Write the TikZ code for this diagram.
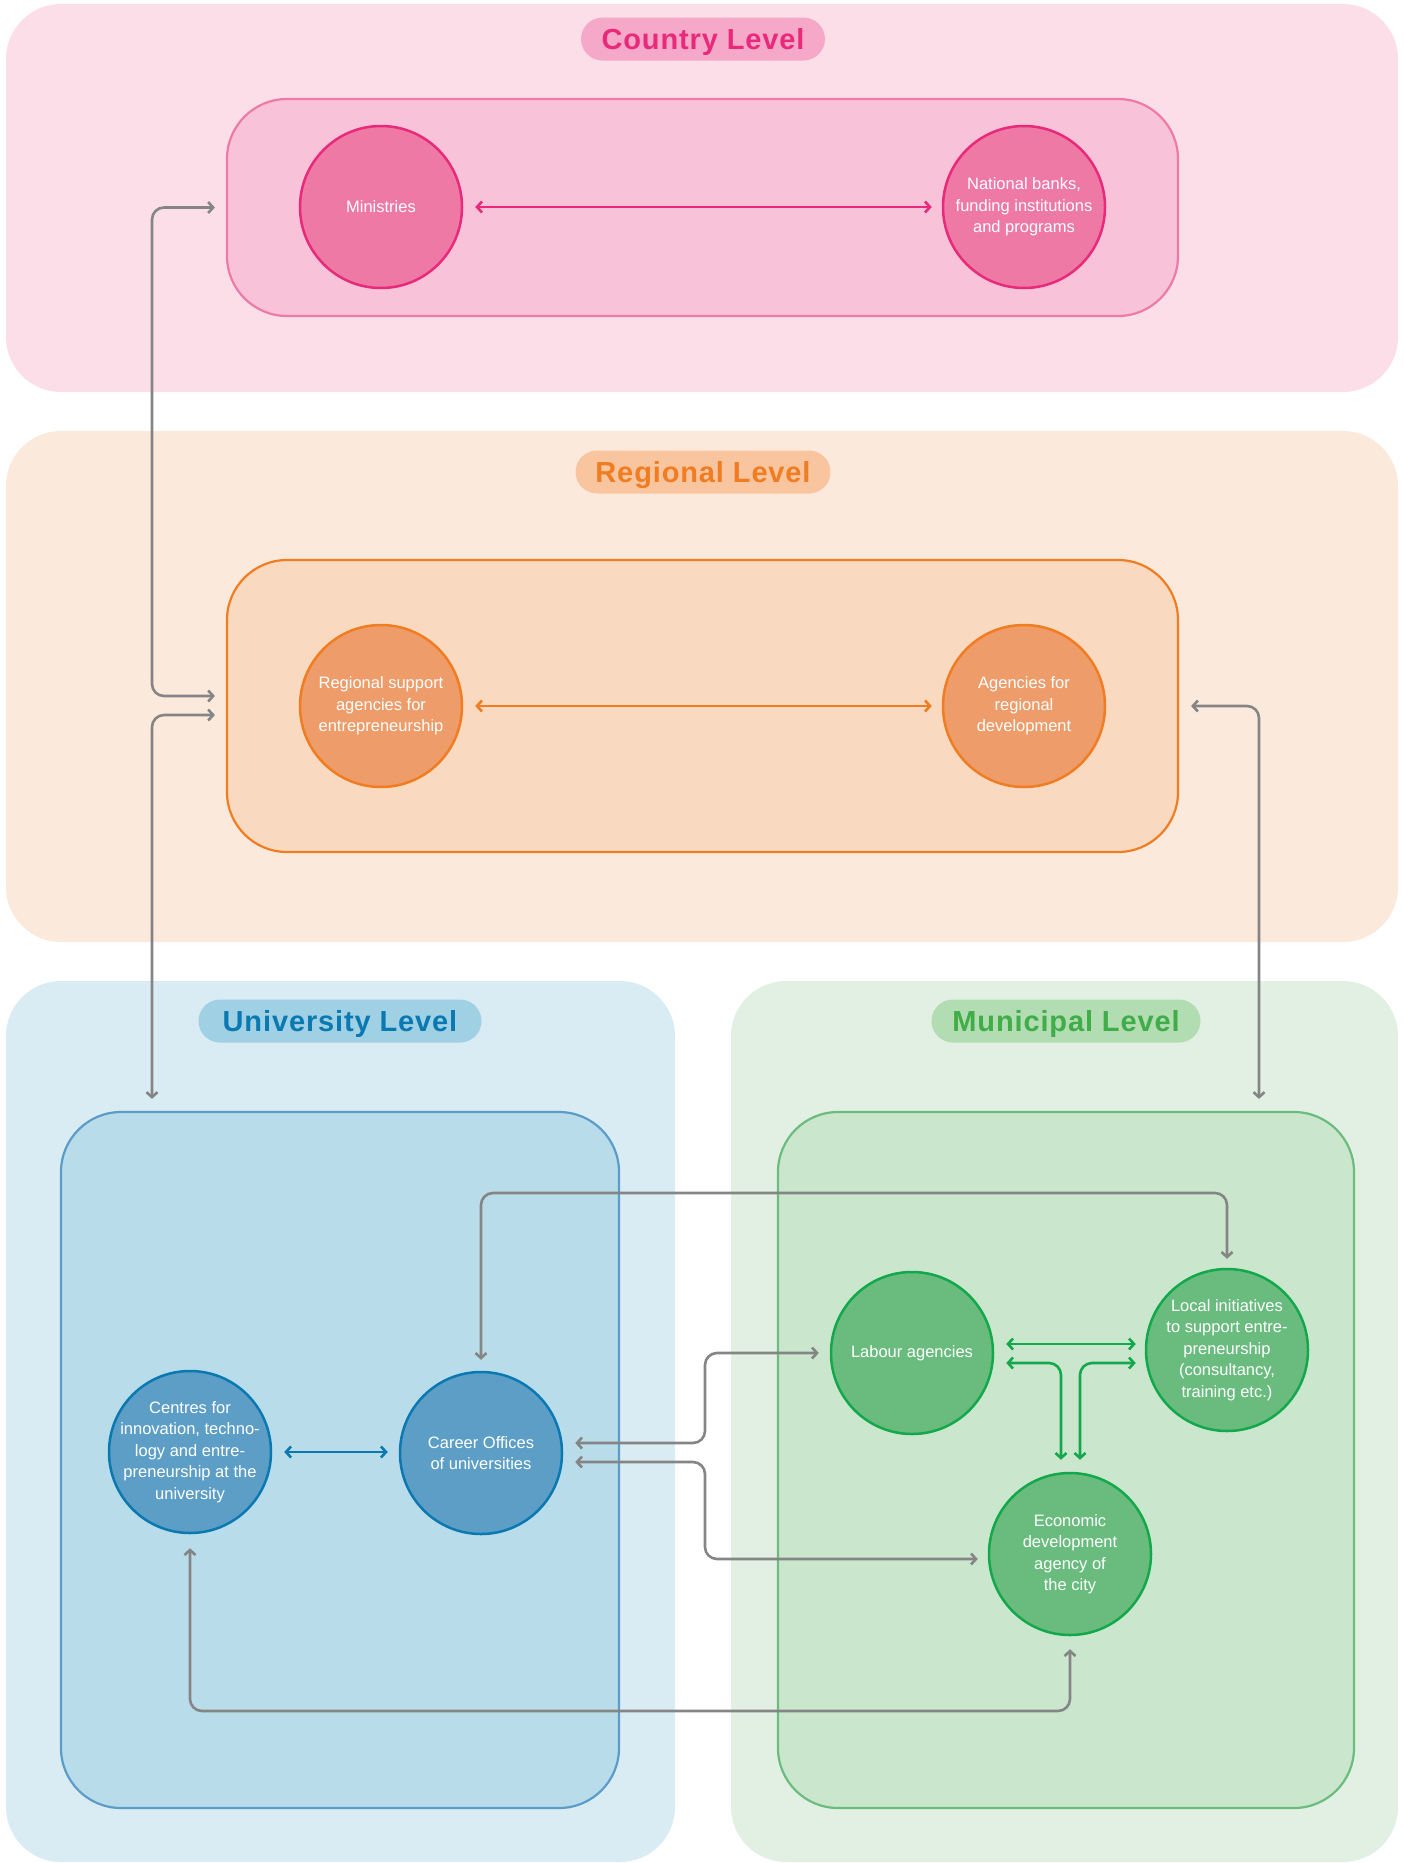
\documentclass[tikz,border=0pt]{standalone}
\usepackage{fontspec}
\setmainfont{Liberation Sans}
\newfontfamily\titlefont[LetterSpace=3]{Liberation Sans}
\usetikzlibrary{arrows.meta}
\definecolor{pinkBand}{HTML}{FCDEE9}
\definecolor{pinkInner}{HTML}{F8C3D8}
\definecolor{pinkInnerLine}{HTML}{EE7AA7}
\definecolor{pinkCircle}{HTML}{EE79A5}
\definecolor{pinkLine}{HTML}{E9297A}
\definecolor{pinkPill}{HTML}{F6A8C9}
\definecolor{orBand}{HTML}{FBE9DC}
\definecolor{orInner}{HTML}{F9DAC0}
\definecolor{orLine}{HTML}{F07D22}
\definecolor{orCircle}{HTML}{EE9C6A}
\definecolor{orPill}{HTML}{F8C59F}
\definecolor{blBand}{HTML}{D9EBF3}
\definecolor{blInner}{HTML}{B8DCEA}
\definecolor{blInnerLine}{HTML}{5B9DC8}
\definecolor{blCircle}{HTML}{5D9EC6}
\definecolor{blLine}{HTML}{0B79B1}
\definecolor{blPill}{HTML}{9FD0E4}
\definecolor{grBand}{HTML}{E1F0E3}
\definecolor{grInner}{HTML}{CAE7CE}
\definecolor{grInnerLine}{HTML}{6CBC7D}
\definecolor{grCircle}{HTML}{69BC7E}
\definecolor{grLine}{HTML}{12A84B}
\definecolor{grPill}{HTML}{B2DDB3}
\definecolor{grTitle}{HTML}{40AD48}
\definecolor{conn}{HTML}{858585}
\begin{document}
\begin{tikzpicture}[x=1pt,y=-1pt,
  band/.style={rounded corners=55pt},
  inner/.style={rounded corners=60pt, line width=2.2pt, inner sep=0pt},
  pill/.style={rounded corners=21.5pt, minimum height=43pt, inner sep=0pt, text depth=0pt,
    font=\titlefont\bfseries\fontsize{29}{34}\selectfont},
  circ/.style={circle, minimum size=162pt, inner sep=-20pt, line width=2.5pt,
    text=white, align=center, font=\fontsize{16.5}{21.5}\selectfont},
  garrow/.style={draw=conn, line width=2.6pt, rounded corners=12pt, {Straight Barb[length=5pt,width=11pt]}-{Straight Barb[length=5pt,width=11pt]}},
  carrow/.style={draw=#1, line width=2.6pt, rounded corners=12pt, {Straight Barb[length=5pt,width=11pt]}-{Straight Barb[length=5pt,width=11pt]}}
]
\useasboundingbox (0,0) rectangle (1403,1863);
% bands
\fill[pinkBand, band] (6,4) rectangle (1398,392);
\fill[orBand, band] (6,431) rectangle (1398,942);
\fill[blBand, band] (6,981) rectangle (675,1862);
\fill[grBand, band] (731,981) rectangle (1398,1862);
% pills
\node[pill, fill=pinkPill, text=pinkLine, minimum width=244pt] (pc) at (703,39) {Country Level};
\node[pill, fill=orPill, text=orLine, minimum width=255pt] (pr) at (703,472) {Regional Level};
\node[pill, fill=blPill, text=blLine, minimum width=283pt] (pu) at (340,1021) {University Level};
\node[pill, fill=grPill, text=grTitle, minimum width=269pt] (pm) at (1066,1021) {Municipal Level};
% inner boxes
\node[inner, draw=pinkInnerLine, fill=pinkInner, minimum width=951pt, minimum height=217pt] (cbox) at (702.5,207.5) {};
\node[inner, draw=orLine, fill=orInner, minimum width=951pt, minimum height=292pt] (rbox) at (702.5,706) {};
\node[inner, draw=blInnerLine, fill=blInner, minimum width=558pt, minimum height=696pt] (ubox) at (340,1460) {};
\node[inner, draw=grInnerLine, fill=grInner, minimum width=576pt, minimum height=696pt] (mbox) at (1066,1460) {};
% circles
\node[circ, draw=pinkLine, fill=pinkCircle] (min) at (381,207) {Ministries};
\node[circ, draw=pinkLine, fill=pinkCircle] (nat) at (1024,207) {National banks,\\funding institutions\\and programs};
\node[circ, draw=orLine, fill=orCircle] (rsa) at (381,706) {Regional support\\agencies for\\entrepreneurship};
\node[circ, draw=orLine, fill=orCircle] (ard) at (1024,706) {Agencies for\\regional\\development};
\node[circ, draw=blLine, fill=blCircle] (cen) at (190,1452) {Centres for\\innovation, techno-\\logy and entre-\\preneurship at the\\university};
\node[circ, draw=blLine, fill=blCircle] (car) at (481,1453) {Career Offices\\of universities};
\node[circ, draw=grLine, fill=grCircle] (lab) at (912,1353) {Labour agencies};
\node[circ, draw=grLine, fill=grCircle] (loc) at (1227,1350) {Local initiatives\\to support entre-\\preneurship\\(consultancy,\\training etc.)};
\node[circ, draw=grLine, fill=grCircle] (eco) at (1070,1554) {Economic\\development\\agency of\\the city};
% lanes
\coordinate (laneL) at (152,0);
\coordinate (laneR) at (1259,0);
\coordinate (vlane) at (705,0);
\coordinate (topLane) at (0,1193);
\coordinate (botLane) at (0,1711);
% gray connectors
\draw[garrow] ([xshift=-11pt]cbox.west) -| ([yshift=10pt]rbox.west -| laneL) -- ([xshift=-11pt,yshift=10pt]rbox.west);
\draw[garrow] ([xshift=-11pt,yshift=-9pt]rbox.west) -| ([yshift=12pt]ubox.north -| laneL);
\draw[garrow] ([xshift=12pt]rbox.east) -| ([yshift=12pt]mbox.north -| laneR);
\draw[garrow] ([yshift=11pt]car.north) |- (topLane -| loc.north) -- ([yshift=9pt]loc.north);
\draw[garrow] ([xshift=12pt,yshift=10pt]car.east) -| (lab.west -| vlane) -- ([xshift=-11pt]lab.west);
\draw[garrow] ([xshift=12pt,yshift=-9pt]car.east) -| ([yshift=-5pt]eco.west -| vlane) -- ([xshift=-10pt,yshift=-5pt]eco.west);
\draw[garrow] ([yshift=-14pt]cen.south) |- (botLane -| eco.south) -- ([yshift=-13pt]eco.south);
% coloured connectors
\draw[carrow=pinkLine] ([xshift=12pt]min.east) -- ([xshift=-10pt]nat.west);
\draw[carrow=orLine] ([xshift=12pt]rsa.east) -- ([xshift=-10pt]ard.west);
\coordinate (cw) at ([xshift=-11pt]car.west);
\draw[carrow=blLine] ([xshift=12pt]cen.east) coordinate (ce) -- (ce -| cw);
\coordinate (lw1) at ([xshift=-9pt,yshift=6pt]loc.west);
\draw[carrow=grLine] ([xshift=12pt,yshift=9pt]lab.east) coordinate (la1) -- (la1 -| lw1);
\draw[carrow=grLine] ([xshift=12pt,yshift=-10pt]lab.east) -| ([xshift=-9pt,yshift=12pt]eco.north);
\draw[carrow=grLine] ([xshift=-9pt,yshift=-13pt]loc.west) -| ([xshift=10pt,yshift=12pt]eco.north);
\end{tikzpicture}
\end{document}
